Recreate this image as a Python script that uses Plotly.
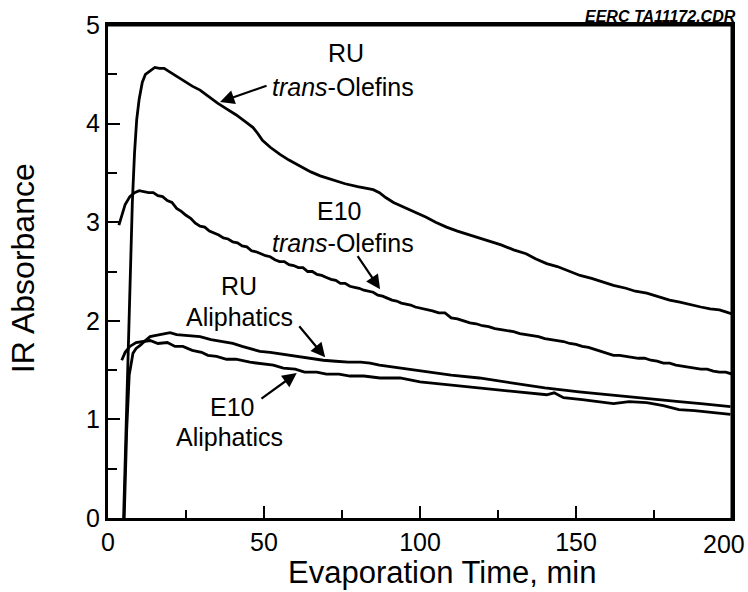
import plotly.graph_objects as go

# ---------------- data ----------------
ru_trans_x = [5, 5.8, 6.5, 7.2, 7.8, 8.5, 9.2, 10, 11, 12, 13.5, 15, 16.5, 18, 19.5, 21, 23, 25, 27, 29.5,
              32, 35, 38, 41, 44, 46.5, 48, 49.5, 52, 55, 58, 61.5, 65, 68, 72, 76, 80, 83, 85, 87, 89,
              91.5, 95, 98, 102, 105, 108.5, 112, 116, 119, 123, 126, 130, 134, 137, 140.6, 144, 148,
              151.3, 155, 158, 162, 166, 169, 172.7, 176, 180, 183.3, 187, 190, 193, 196, 198, 200]
ru_trans_y = [0, 0.9, 1.8, 2.6, 3.2, 3.7, 4.04, 4.25, 4.42, 4.5, 4.54, 4.57, 4.56, 4.56, 4.53, 4.5, 4.46,
              4.42, 4.38, 4.34, 4.28, 4.21, 4.15, 4.09, 4.02, 3.96, 3.9, 3.83, 3.76, 3.69, 3.63, 3.57,
              3.51, 3.47, 3.43, 3.39, 3.36, 3.34, 3.33, 3.3, 3.25, 3.2, 3.15, 3.11, 3.05, 3.0, 2.95,
              2.91, 2.87, 2.84, 2.8, 2.77, 2.72, 2.68, 2.63, 2.58, 2.55, 2.5, 2.46, 2.43, 2.4, 2.36,
              2.33, 2.3, 2.28, 2.25, 2.21, 2.19, 2.16, 2.14, 2.12, 2.11, 2.09, 2.07]

e10_trans_x = [3.5, 4.5, 5.5, 7,
               8.5, 10, 11.5, 13, 14.5, 16, 17.5, 19, 20.5, 22, 23.5, 25, 26.5, 28, 29.5, 31, 32.5,
               34, 35.5, 37, 38.5, 40, 41.5, 43, 44.5, 46, 47.5, 49, 50.5, 52, 53.5, 55, 56.5, 58,
               59.5, 61, 62.5, 64, 65.5, 67, 68.5, 70, 71.5, 73, 74.5, 76, 77.5, 79, 80.5, 82, 83.5,
               85, 86.5, 88, 89.5, 91, 92.5, 94, 95.5, 97, 98.5, 100,
               102, 104, 106, 108, 110, 112, 114, 116, 118, 120, 122, 124, 126, 128, 130, 132, 134,
               136, 138, 140, 142, 144, 146, 148, 150, 152, 154, 156, 158, 160, 162, 164, 166, 168,
               170, 172, 174, 176, 178, 180, 182, 184, 186, 188, 190, 192, 194, 196, 198, 200]
e10_trans_y = [2.97, 3.08, 3.18, 3.26,
               3.30, 3.32, 3.31, 3.30, 3.30, 3.27, 3.26, 3.22, 3.20, 3.14, 3.11, 3.07, 3.04, 2.99,
               2.96, 2.95, 2.91, 2.89, 2.87, 2.84, 2.83, 2.80, 2.79, 2.76, 2.75, 2.71, 2.70, 2.68,
               2.66, 2.65, 2.62, 2.60, 2.60, 2.57, 2.56, 2.54, 2.54, 2.50, 2.50, 2.47, 2.46, 2.44,
               2.42, 2.41, 2.38, 2.38, 2.35, 2.34, 2.33, 2.31, 2.30, 2.29, 2.26, 2.25, 2.23, 2.21,
               2.20, 2.18, 2.17, 2.16, 2.14, 2.13,
               2.11, 2.10, 2.08, 2.08, 2.03, 2.02, 2.00, 1.98, 1.97, 1.95, 1.94, 1.92, 1.91, 1.90,
               1.89, 1.87, 1.86, 1.85, 1.84, 1.82, 1.81, 1.80, 1.79, 1.77, 1.76, 1.74, 1.73, 1.71,
               1.69, 1.67, 1.65, 1.65, 1.64, 1.63, 1.62, 1.62, 1.60, 1.59, 1.57, 1.57, 1.55, 1.54,
               1.53, 1.52, 1.51, 1.51, 1.49, 1.48, 1.48, 1.46]

ru_aliph_x = [5.2, 6, 6.8, 8, 9, 10.3, 12, 13.5, 15, 17, 19.9, 22, 25, 29.5, 33, 36, 40, 43, 45.5, 48.7,
              52, 56, 61.5, 65, 69, 73, 77, 81, 84, 87, 93.6, 100, 110, 119, 130, 140, 151, 160, 170,
              183, 190, 199.5]
ru_aliph_y = [0, 0.9, 1.45, 1.67, 1.72, 1.75, 1.8, 1.84, 1.85, 1.86, 1.88, 1.86, 1.85, 1.84, 1.81, 1.79,
              1.77, 1.74, 1.72, 1.69, 1.68, 1.66, 1.64, 1.62, 1.6, 1.59, 1.58, 1.58, 1.57, 1.55, 1.52,
              1.49, 1.45, 1.42, 1.37, 1.32, 1.28, 1.25, 1.22, 1.18, 1.16, 1.13]

e10_aliph_x = [4.4, 5.5, 7, 9, 11.3, 13.5, 16, 19, 21.5, 24, 27, 30, 32, 34.8, 38, 41, 45.5, 50, 53,
               56.2, 60, 63, 66.9, 70, 74, 77.6, 82, 87.2, 93.6, 100, 106, 112, 119, 125, 130, 135,
               140.6, 143, 146, 152, 157, 162, 167, 172.7, 178, 183, 188, 194, 199.5]
e10_aliph_y = [1.6, 1.68, 1.74, 1.78, 1.79, 1.8, 1.77, 1.78, 1.74, 1.74, 1.70, 1.68, 1.65, 1.64, 1.61,
               1.61, 1.58, 1.56, 1.55, 1.52, 1.51, 1.48, 1.48, 1.46, 1.46, 1.44, 1.44, 1.42, 1.42, 1.38,
               1.36, 1.34, 1.32, 1.30, 1.28, 1.27, 1.25, 1.27, 1.22, 1.20, 1.18, 1.16, 1.18, 1.17, 1.14,
               1.10, 1.09, 1.07, 1.05]

x_ticks = [0, 50, 100, 150, 200]
x_tick_text = ["0", "50", "100", "150", ""]   # the "200" label is placed separately below
x_last_label = "200"
y_ticks = [0, 1, 2, 3, 4, 5]

FONT = "Liberation Sans, Arial, Helvetica, sans-serif"

fig = go.Figure()
for xs, ys in [(ru_trans_x, ru_trans_y), (e10_trans_x, e10_trans_y),
               (ru_aliph_x, ru_aliph_y), (e10_aliph_x, e10_aliph_y)]:
    fig.add_trace(go.Scatter(x=xs, y=ys, mode="lines",
                             line=dict(color="black", width=2.8), showlegend=False,
                             hoverinfo="skip"))

ann = []
labels = [
    ("RU", 76.4, 4.72), ("<i>trans</i>-Olefins", 75.4, 4.37),
    ("E10", 74.0, 3.11), ("<i>trans</i>-Olefins", 75.2, 2.79),
    ("RU", 42.0, 2.35), ("Aliphatics", 42.0, 2.04),
    ("E10", 39.6, 1.13), ("Aliphatics", 38.9, 0.82),
]
for t, x, y in labels:
    ann.append(dict(text=t, x=x, y=y, xref="x", yref="y", showarrow=False,
                    font=dict(family=FONT, size=25, color="black"),
                    xanchor="center", yanchor="middle"))

arrows = [
    ((51.3, 4.39), (35.9, 4.22)),
    ((79.7, 2.67), (87.2, 2.32)),
    ((60.9, 1.96), (69.6, 1.63)),
    ((48.7, 1.20), (60.5, 1.47)),
]
for (tx, ty), (hx, hy) in arrows:
    ann.append(dict(x=hx, y=hy, ax=tx, ay=ty, xref="x", yref="y", axref="x", ayref="y",
                    text="", showarrow=True, arrowhead=2, arrowsize=1.3, arrowwidth=2.2,
                    arrowcolor="black", standoff=0, startstandoff=0))

# last x tick label, right-aligned inside the page
ann.append(dict(text=x_last_label, x=200, y=0, xref="x", yref="y", showarrow=False,
                xanchor="right", yanchor="top", xshift=15, yshift=-10,
                font=dict(family=FONT, size=25, color="black")))

# axis titles and stamp
ann.append(dict(text="IR Absorbance", x=-0.136, y=0.507, xref="paper", yref="paper",
                showarrow=False, textangle=-90, font=dict(family=FONT, size=32, color="black"),
                xanchor="center", yanchor="middle"))
ann.append(dict(text="Evaporation Time, min", x=0.536, y=-0.1495, xref="paper", yref="paper",
                showarrow=False, font=dict(family=FONT, size=31, color="black"),
                xanchor="center", yanchor="bottom"))
ann.append(dict(text="<b><i>EERC TA11172.CDR</i></b>", x=1.0096, y=1.018, xref="paper",
                yref="paper", showarrow=False, font=dict(family=FONT, size=16, color="black"),
                xanchor="right", yanchor="middle"))

axis_common = dict(showgrid=False, zeroline=False, showline=True, linecolor="black", linewidth=3,
                   mirror=True, ticks="inside", ticklen=12, tickwidth=2, tickcolor="black",
                   automargin=False,
                   tickfont=dict(family=FONT, size=25, color="black"))

frame = [
    dict(type="line", xref="paper", yref="paper", x0=0, x1=1, y0=1, y1=1),
    dict(type="line", xref="paper", yref="paper", x0=1, x1=1, y0=0, y1=1),
]
for s in frame:
    s["line"] = dict(color="black", width=3)
    s["layer"] = "above"

fig.update_layout(
    template="none",
    width=748, height=592,
    margin=dict(l=108, r=16, t=25, b=74, autoexpand=False),
    paper_bgcolor="white", plot_bgcolor="white",
    xaxis=dict(range=[0, 200], tickvals=x_ticks, ticktext=x_tick_text,
               minor=dict(dtick=25, ticks="inside", ticklen=8, tickwidth=2, tickcolor="black"),
               **axis_common),
    yaxis=dict(range=[0, 5], tickvals=y_ticks, ticktext=[str(v) for v in y_ticks],
               minor=dict(dtick=0.5, ticks="inside", ticklen=9, tickwidth=2, tickcolor="black"),
               **axis_common),
    annotations=ann,
    shapes=frame,
)

fig.write_html("out.html")
